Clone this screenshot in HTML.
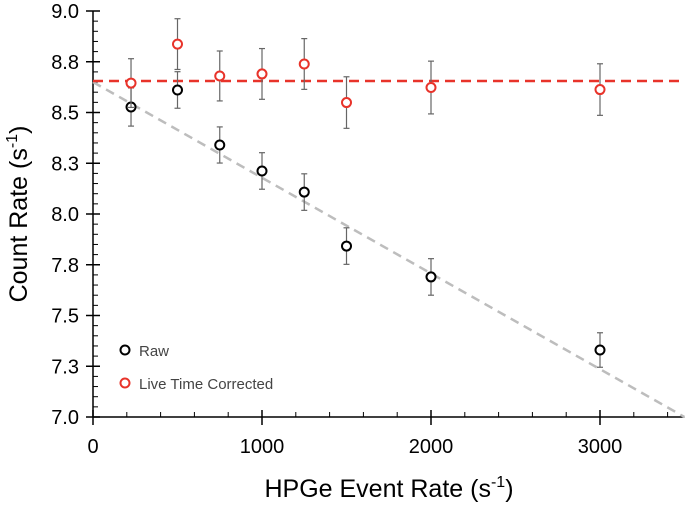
<!DOCTYPE html>
<html><head><meta charset="utf-8"><style>
body{margin:0;background:#fff;font-family:"Liberation Sans",Arial,sans-serif}
</style></head><body>
<svg id="chart" width="685" height="504" xmlns="http://www.w3.org/2000/svg" font-family="Liberation Sans, Arial, sans-serif"></svg>
<script>
const xValues=[225,500,750,1000,1250,1500,2000,3000];
const rawValues=[8.527,8.611,8.34,8.212,8.108,7.842,7.69,7.33];
const rawErr=[0.094,0.09,0.089,0.09,0.09,0.09,0.09,0.085];
const corrValues=[8.645,8.837,8.68,8.69,8.739,8.549,8.623,8.613];
const corrErr=[0.12,0.125,0.123,0.125,0.125,0.127,0.13,0.127];
const yTicks=[7.0,7.25,7.5,7.75,8.0,8.25,8.5,8.75,9.0];
const yTickLabels=["7.0","7.3","7.5","7.8","8.0","8.3","8.5","8.8","9.0"];
const xTicks=[0,1000,2000,3000];
const fitRaw=[8.65,7.0];
const fitCorr=8.655;

const NS="http://www.w3.org/2000/svg";
const svg=document.getElementById('chart');
const X0=93,X1=684.5,Y0=417,Y1=11;
const sx=v=>X0+v/3500*(X1-X0);
const sy=v=>Y0-(v-7)/2*(Y0-Y1);
function mk(t,a,p){const e=document.createElementNS(NS,t);for(const k in a)e.setAttribute(k,a[k]);(p||svg).appendChild(e);return e;}

let e;
e=mk('line',{x1:X0,y1:Y0,x2:X1,y2:Y0,stroke:'#000','stroke-width':1.5});


e=mk('line',{x1:X0,y1:Y0,x2:X0,y2:Y1,stroke:'#000','stroke-width':1.5});


for(let k=0;k<=40;k++){const v=7+k*0.05;mk('line',{x1:X0,y1:sy(v),x2:X0+5,y2:sy(v),stroke:'#000'});}
for(let k=0;k<=17;k++){const v=k*200;mk('line',{x1:sx(v),y1:Y0,x2:sx(v),y2:Y0-5,stroke:'#000'});}
yTicks.forEach((v,i)=>{
  mk('line',{x1:X0-7,y1:sy(v),x2:X0+7,y2:sy(v),stroke:'#000','stroke-width':1.5});
  e=mk('text',{x:X0-14,y:sy(v)+7,'text-anchor':'end','font-size':20});
  e.textContent=yTickLabels[i];
  
  
});
xTicks.forEach(v=>{
  mk('line',{x1:sx(v),y1:Y0-7,x2:sx(v),y2:Y0+8,stroke:'#000','stroke-width':1.5});
  e=mk('text',{x:sx(v),y:Y0+36,'text-anchor':'middle','font-size':20});
  e.textContent=String(v);
  
  
});
e=mk('text',{x:389,y:497,'text-anchor':'middle','font-size':25});
e.innerHTML='HPGe Event Rate (s<tspan dy="-10" font-size="16">-1</tspan><tspan dy="10">)</tspan>';


e=mk('text',{x:0,y:0,'text-anchor':'middle','font-size':25,transform:'translate(27,214) rotate(-90)'});
e.innerHTML='Count Rate (s<tspan dy="-10" font-size="16">-1</tspan><tspan dy="10">)</tspan>';



e=mk('line',{x1:sx(0),y1:sy(fitRaw[0]),x2:sx(3500),y2:sy(fitRaw[1]),stroke:'#bdbdbd','stroke-width':2.5,'stroke-dasharray':'9,6'});


e=mk('line',{x1:sx(0),y1:sy(fitCorr),x2:sx(3500),y2:sy(fitCorr),stroke:'#e8332a','stroke-width':2.5,'stroke-dasharray':'10,6'});



function series(vals,errs,color,name){
  vals.forEach((v,i)=>{
    const x=sx(xValues[i]);
    const g=mk('g',{});
    
    
    mk('line',{x1:x,y1:sy(v+errs[i]),x2:x,y2:sy(v-errs[i]),stroke:'#666','stroke-width':1.2},g);
    mk('line',{x1:x-3,y1:sy(v+errs[i]),x2:x+3,y2:sy(v+errs[i]),stroke:'#666','stroke-width':1.2},g);
    mk('line',{x1:x-3,y1:sy(v-errs[i]),x2:x+3,y2:sy(v-errs[i]),stroke:'#666','stroke-width':1.2},g);
    mk('circle',{cx:x,cy:sy(v),r:4.5,fill:'#fff',stroke:color,'stroke-width':2},g);
  });
}
series(rawValues,rawErr,'#000','raw');
series(corrValues,corrErr,'#e8332a','corrected');

e=mk('circle',{cx:125,cy:350,r:4.5,fill:'#fff',stroke:'#000','stroke-width':2});


e=mk('text',{x:139,y:356,'font-size':15,fill:'#444'});e.textContent='Raw';


e=mk('circle',{cx:125,cy:383,r:4.5,fill:'#fff',stroke:'#e8332a','stroke-width':2});


e=mk('text',{x:139,y:389,'font-size':15,fill:'#444'});e.textContent='Live Time Corrected';


</script>
</body></html>
